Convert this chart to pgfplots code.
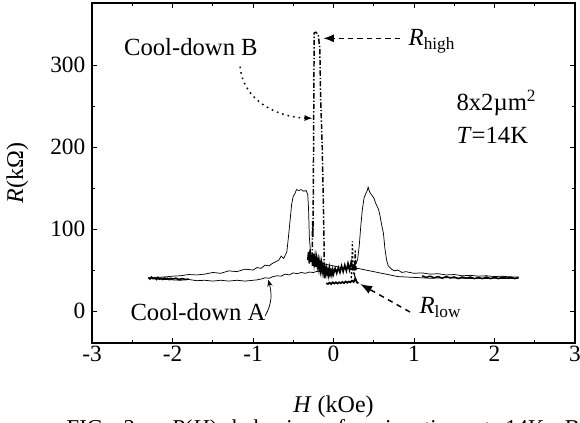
\documentclass[border=0pt]{standalone}
\usepackage{pgfplots}
\pgfplotsset{compat=1.18}
\usepackage{fontspec}
\setmainfont{Liberation Serif}
\usetikzlibrary{arrows.meta}

\begin{document}
\begin{tikzpicture}
\begin{axis}[
  scale only axis, width=362.25pt, height=255pt,
  xmin=-3, xmax=3, ymin=-39, ymax=375.6,
  xtick={-3,-2,-1,0,1,2,3}, xticklabels={-3,-2,-1,0,1,2,3},
  ytick={0,100,200,300},
  minor x tick num=1, minor y tick num=1,
  tick align=inside,
  major tick length=4pt, minor tick length=2.5pt,
  axis line style={line width=0.8pt},
  every tick/.style={black, line width=0.7pt},
  /pgf/number format/assume math mode=true,
  tick label style={font=\fontsize{17.5}{20}\selectfont},
  xticklabel style={yshift=1.5pt},
  yticklabel style={xshift=-1.5pt},
  label style={font=\fontsize{18}{21}\selectfont},
  xlabel={\textit{H} (kOe)},
  ylabel={\textit{R}(kΩ)},
  xlabel style={at={(axis description cs:0.5,0)}, anchor=base, yshift=-51.75pt},
  ylabel style={at={(axis description cs:0,0.5)}, anchor=center, yshift=56pt},
  clip=false,
]

% cool-down A, sweep up
\addplot[black, line width=0.55pt] coordinates {
(-2.30,40) (-2.20,39) (-2.10,38.5) (-2.00,38) (-1.90,37.5) (-1.80,38.5) (-1.70,37)
(-1.60,37.5) (-1.50,36.5) (-1.40,37.5) (-1.30,36.5) (-1.20,37.5) (-1.10,36.5) (-1.00,37.5)
(-0.95,38) (-0.90,39) (-0.85,40.5) (-0.80,40) (-0.75,42) (-0.70,43) (-0.65,42.5)
(-0.60,45) (-0.55,44) (-0.50,46.5) (-0.45,45.5) (-0.40,47) (-0.35,46) (-0.30,47.5)
(-0.25,47) (-0.20,48.5) (-0.15,48) (-0.10,49.5) (-0.05,49) (0.00,51) (0.05,50)
(0.10,52) (0.15,51) (0.20,53) (0.25,55) (0.28,58) (0.30,63) (0.32,80) (0.34,105)
(0.36,125) (0.38,138) (0.40,143) (0.42,147) (0.43,151) (0.45,145) (0.47,142)
(0.50,138) (0.53,130) (0.56,124) (0.58,115) (0.60,104) (0.62,95) (0.64,75)
(0.66,62) (0.68,55) (0.72,51) (0.76,49) (0.80,50) (0.85,47) (0.90,48) (1.00,46)
(1.10,46.5) (1.20,45) (1.30,45.5) (1.40,44) (1.50,44.5) (1.60,43) (1.70,43.5)
(1.80,42.5) (1.90,43) (2.00,42) (2.10,42.5) (2.20,41.5) (2.30,41.5)
};
% cool-down A, sweep down
\addplot[black, line width=0.55pt] coordinates {
(2.30,40) (2.20,39.5) (2.00,40) (1.80,39.5) (1.60,40) (1.40,40.5) (1.20,40)
(1.00,41) (0.90,41.5) (0.80,42) (0.70,44) (0.60,46) (0.50,48) (0.40,50)
(0.30,52) (0.20,51) (0.10,53) (0.00,55) (-0.10,57) (-0.20,60) (-0.28,65)
(-0.30,90) (-0.31,125) (-0.32,142) (-0.34,147) (-0.37,146) (-0.40,148)
(-0.43,147) (-0.46,148) (-0.48,143) (-0.50,140) (-0.52,130) (-0.54,110)
(-0.56,90) (-0.58,72) (-0.60,68) (-0.62,64) (-0.65,67) (-0.68,62) (-0.72,60)
(-0.76,58) (-0.80,55) (-0.85,56) (-0.90,52) (-0.95,53) (-1.00,50) (-1.10,51)
(-1.20,48) (-1.30,49) (-1.40,46) (-1.50,47) (-1.60,45) (-1.70,44) (-1.80,44.5)
(-1.90,43) (-2.00,42.5) (-2.10,41.5) (-2.20,41) (-2.30,40)
};

% cool-down B, noisy baselines
\addplot[black, line width=1.2pt] coordinates {
(-2.30,41) (-2.28,39) (-2.26,41.5) (-2.24,39.5) (-2.22,40.5) (-2.20,38.5)
(-2.18,41) (-2.16,39) (-2.14,40) (-2.12,38.5) (-2.10,40.5) (-2.08,39)
(-2.06,40) (-2.04,38.5) (-2.02,40) (-2.00,39) (-1.96,40) (-1.92,38.5)
(-1.88,39.5) (-1.84,38.5) (-1.80,39)
};
\addplot[black, line width=1.1pt] coordinates {
(1.10,43) (1.15,41) (1.20,42.5) (1.25,40.5) (1.30,42) (1.35,40) (1.40,42)
(1.45,40.5) (1.50,41.5) (1.55,39.5) (1.60,41.5) (1.65,40) (1.70,41.5)
(1.75,39.5) (1.80,41) (1.85,39.5) (1.90,41.5) (1.95,39.5) (2.00,41)
(2.05,39.5) (2.10,41.5) (2.15,40) (2.20,41.5) (2.25,39.5) (2.30,41)
};
% cool-down B, switching region
\addplot[black, line width=1.2pt] coordinates {
(-0.32,62) (-0.31,72) (-0.30,58) (-0.29,75) (-0.28,60) (-0.27,68) (-0.26,55)
(-0.25,70) (-0.24,58) (-0.23,66) (-0.22,54) (-0.21,64) (-0.20,55) (-0.19,62)
(-0.18,52) (-0.17,60) (-0.16,50) (-0.15,58) (-0.14,48) (-0.13,55) (-0.12,47)
(-0.11,53) (-0.10,46) (-0.09,52) (-0.08,45) (-0.07,50) (-0.06,44) (-0.05,52)
(-0.04,45) (-0.03,49) (-0.02,44) (-0.01,50) (0.00,45) (0.02,52) (0.04,46)
(0.06,53) (0.08,47) (0.10,55) (0.12,48) (0.14,56) (0.16,49) (0.18,58)
(0.20,50) (0.22,60) (0.24,52) (0.26,57) (0.28,50)
};
\addplot[black, line width=1.1pt, dash pattern=on 4pt off 1.5pt on 1pt off 1.5pt] coordinates {
(-0.265,65) (-0.26,110) (-0.255,90) (-0.25,160) (-0.245,250) (-0.24,339)
(-0.22,340) (-0.19,337) (-0.17,320) (-0.16,260) (-0.14,200) (-0.13,150)
(-0.12,100) (-0.115,60) (-0.11,38)
};
\addplot[black, line width=1.3pt] coordinates {
(-0.09,34) (-0.07,33) (-0.05,34.5) (-0.03,33) (-0.01,35) (0.01,33.5)
(0.03,35) (0.05,33.5) (0.07,35) (0.09,34) (0.11,35.5) (0.13,34) (0.15,36)
(0.17,34.5) (0.19,36) (0.21,35) (0.23,37) (0.25,35.5) (0.27,40) (0.29,35)
(0.31,34)
};
\addplot[black, line width=1pt, dash pattern=on 1.5pt off 1.5pt] coordinates {
(0.22,40) (0.23,62) (0.235,85) (0.24,62) (0.25,45)
};
\addplot[black, line width=1pt, dash pattern=on 3pt off 1.5pt] coordinates {
(0.26,42) (0.27,74) (0.28,52)
};

% annotations
\node[anchor=base west, font=\fontsize{18.5}{21}\selectfont] at (axis cs:-2.66,312) {Cool-down B};
\node[anchor=base west, font=\fontsize{18.5}{21}\selectfont] at (axis cs:-2.58,-12) {Cool-down A};
\node[anchor=base west, font=\fontsize{18.5}{21}\selectfont] at (axis cs:0.876,324) {\textit{R}\textsubscript{high}};
\node[anchor=base west, font=\fontsize{18.5}{21}\selectfont] at (axis cs:1.01,-3) {\textit{R}\textsubscript{low}};
\node[anchor=base west, font=\fontsize{18.5}{21}\selectfont] at (axis cs:1.47,245) {8x2µm\textsuperscript{2}};
\node[anchor=base west, font=\fontsize{18.5}{21}\selectfont] at (axis cs:1.47,204.5) {\textit{T}=14K};

\draw[line width=1.1pt, dash pattern=on 1.2pt off 3pt, -{Latex[length=6pt,width=4.5pt]}]
  (axis cs:-1.16,298) to[out=-85,in=178] (axis cs:-0.26,235);
\draw[line width=1.1pt, dash pattern=on 4pt off 3pt, -{Latex[length=8pt,width=6pt]}]
  (axis cs:0.826,332.5) -- (axis cs:-0.127,332.5);
\draw[line width=1.1pt, dash pattern=on 4pt off 3.5pt, -{Latex[length=9pt,width=6.5pt]}]
  (axis cs:0.95,-1.2) -- (axis cs:0.33,33);
\draw[line width=0.55pt, -{Stealth[length=5pt,width=4pt]}]
  (axis cs:-0.85,-6) to[out=60,in=-75] (axis cs:-0.81,38);
\end{axis}
\node[anchor=base west, font=\fontsize{17}{20}\selectfont] at (-22.5pt,-69.5pt)
  {\makebox[385pt][s]{FIG. 3:\ \ \textit{R}(\textit{H}) behavior of a junction at 14K. B}};
\pgfresetboundingbox
\useasboundingbox (-69pt,-59.25pt) rectangle (366pt,257.25pt);
\end{tikzpicture}
\end{document}
